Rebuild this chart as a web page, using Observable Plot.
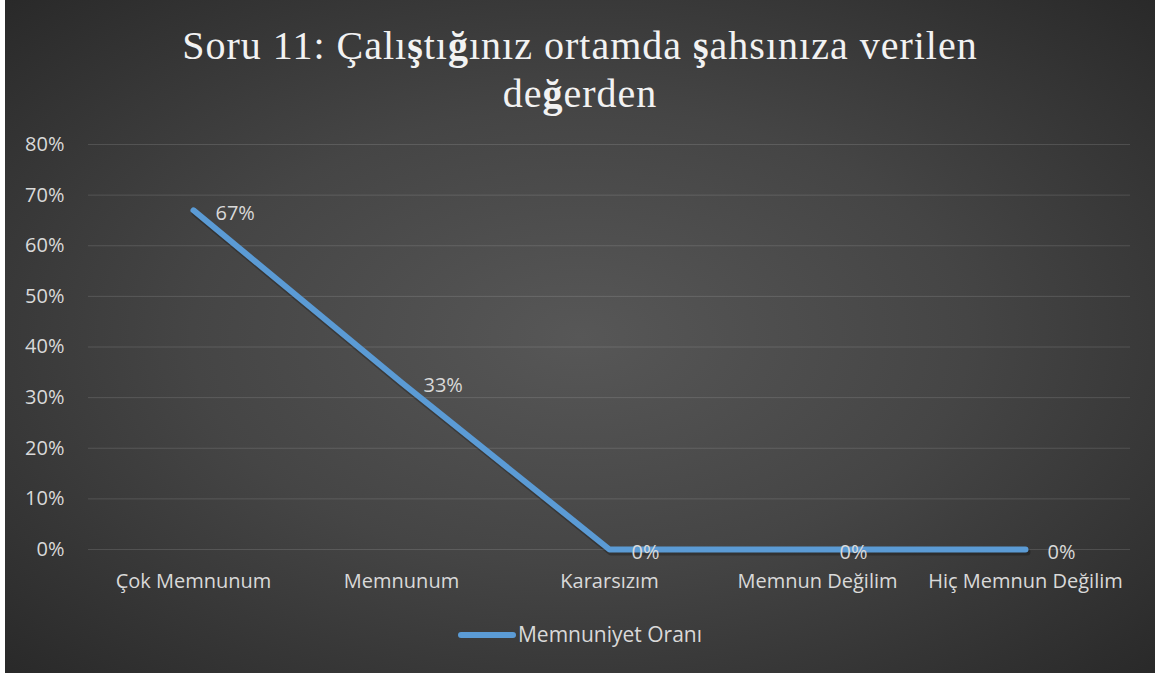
<!DOCTYPE html>
<html><head><meta charset="utf-8">
<script src="https://cdn.jsdelivr.net/npm/d3@7"></script>
<script src="https://cdn.jsdelivr.net/npm/@observablehq/plot@0.6"></script>
<style>
html,body{margin:0;padding:0;background:#fff;}
#chart{position:relative;margin-left:5px;width:1150px;height:673px;overflow:hidden;
background:radial-gradient(ellipse 75% 75% at 50% 50%, #575757 0%, #454545 45%, #262626 100%);}
#title{position:absolute;top:22px;left:0;width:1150px;text-align:center;color:#f2f2f2;
font-family:"Liberation Serif","DejaVu Serif",serif;font-size:40px;line-height:48px;letter-spacing:1px;}
#title b{font-weight:bold;}
#plot{position:absolute;top:120px;left:0;}
#legend{position:absolute;top:619px;left:0;width:1150px;text-align:center;color:#d9d9d9;
font-family:"Open Sans",sans-serif;font-size:21px;line-height:30px;}
#legend .sw{display:inline-block;width:58px;height:6px;background:#5b9bd5;border-radius:3px;vertical-align:middle;margin-right:2px;position:relative;top:-1px;}
</style></head>
<body>
<div id="chart">
  <div id="title">Soru 11: Çalı<b>ş</b>tı<b>ğ</b>ınız ortamda <b>ş</b>ahsınıza verilen<br>de<b>ğ</b>erden</div>
  <div id="plot"></div>
  <div id="legend"><span class="sw"></span><span>Memnuniyet Oranı</span></div>
</div>
<script>
const categories = ["Çok Memnunum", "Memnunum", "Kararsızım", "Memnun Değilim", "Hiç Memnun Değilim"];
const values = [0.67, 0.33, 0, 0, 0];
const valueLabels = ["67%", "33%", "0%", "0%", "0%"];
const yTicks = [0, 0.1, 0.2, 0.3, 0.4, 0.5, 0.6, 0.7, 0.8];
const seriesName = "Memnuniyet Oranı";

const data = categories.map((c, i) => ({cat: c, v: values[i], label: valueLabels[i]}));

const chart = Plot.plot({
  width: 1150,
  height: 480,
  marginLeft: 83,
  marginRight: 25,
  marginTop: 24,
  marginBottom: 51,
  style: {background: "transparent", color: "#d9d9d9", fontFamily: "'Open Sans', sans-serif", fontSize: "20px", overflow: "visible"},
  x: {type: "point", domain: categories, padding: 0.5, label: null},
  y: {domain: [0, 0.8], label: null},
  marks: [
    Plot.gridY(yTicks, {stroke: "#ffffff", strokeOpacity: 0.13, strokeWidth: 1}),
    Plot.axisY({ticks: yTicks, tickFormat: d => Math.round(d * 100) + "%", tickSize: 0, tickPadding: 24, fontSize: 20, fill: "#d9d9d9"}),
    Plot.axisX({tickSize: 0, tickPadding: 24, fontSize: 20, fill: "#d9d9d9"}),
    Plot.line(data, {x: "cat", y: "v", stroke: "#000", strokeOpacity: 0.25, strokeWidth: 7, dx: 1.5, dy: 2.5, strokeLinecap: "round", strokeLinejoin: "round"}),
    Plot.line(data, {x: "cat", y: "v", stroke: "#5b9bd5", strokeWidth: 6, strokeLinecap: "round", strokeLinejoin: "round"}),
    Plot.text(data, {x: "cat", y: "v", text: "label", dx: 22, dy: 3, textAnchor: "start", fill: "#d9d9d9", fontSize: 20})
  ]
});
document.getElementById("plot").appendChild(chart);
</script>
</body></html>
